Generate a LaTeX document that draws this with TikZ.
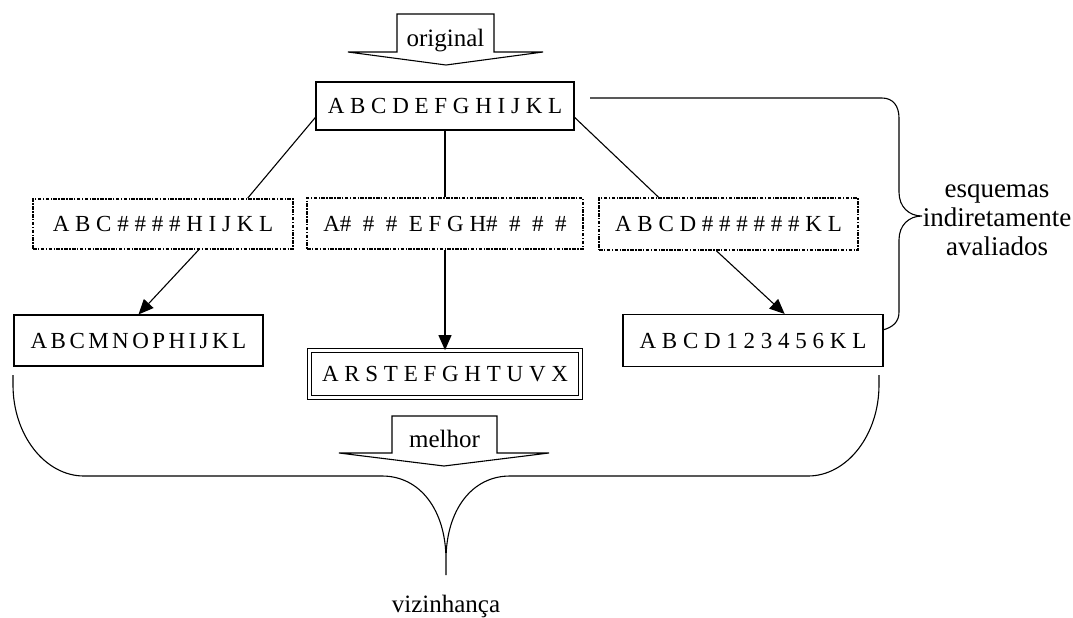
\documentclass[tikz,border=0pt]{standalone}
\usepackage{fontspec}
\setmainfont{Liberation Serif}
\usepackage{tikz}
\usetikzlibrary{arrows.meta, calc}

\begin{document}
\begin{tikzpicture}[x=0.5pt, y=-0.5pt, line width=0.55pt,
    esquema/.style={draw, inner sep=0pt, font=\fontsize{11.5}{13}\selectfont},
    parcial/.style={esquema, line width=0.9pt, dash pattern=on 1.8pt off 0.7pt on 0.7pt off 0.7pt},
    escolhido/.style={esquema, double, double distance=1.5pt},
    rotulo/.style={font=\fontsize{12.5}{14}\selectfont},
    seta/.style={-{Triangle[length=7.5pt, width=6.5pt]}}]

    \useasboundingbox (0,0) rectangle (1073,617);

    % seta de entrada
    \draw (397,14) -- (494,14) -- (494,52) -- (543,52) -- (446,65) -- (348,52) -- (397,52) -- cycle;
    \node[rotulo, anchor=base] (orig) at (445.5,46) {original};

    % esquema original
    \node[esquema, minimum width=129pt, minimum height=24pt] (top) at (445,106) {A B C D E F G H I J K L};

    % esquemas parciais
    \node[parcial, minimum width=130pt, minimum height=25pt] (mutL) at (163,224) {A B C \# \# \# \# H I J K L};
    \node[parcial, minimum width=138pt, minimum height=25.5pt] (mutM) at (445,223.5) {A\# \ \# \ \# \ E F G H\# \ \# \ \# \ \#};
    \node[parcial, minimum width=129.5pt, minimum height=26pt] (mutR) at (728.5,224) {A B C D \# \# \# \# \# \# K L};

    % vizinhos
    \node[esquema, minimum width=124.5pt, minimum height=25.5pt] (nbL) at (138.5,340.5) {\spaceskip=0.15em A B C M N O P H I J K L};
    \node[escolhido, minimum width=135.3pt, minimum height=23.3pt] (best) at (445,374) {A R S T E F G H T U V X};
    \node[esquema, minimum width=130pt, minimum height=26pt] (nbR) at (753,340.5) {A B C D 1 2 3 4 5 6 K L};

    % ligacoes
    \draw (top.185) -- (mutL.17);
    \draw (top.south) -- (mutM.north);
    \draw (top.355) -- (mutR.159);
    \draw[seta] (mutL.-36) -- (nbL.north);
    \draw[seta] (mutM.south) -- (best.north);
    \draw[seta] (mutR.246) -- (nbR.40);

    % chave da direita
    \draw (590,98) -- (882,98) .. controls (893,98) and (899,106) .. (899,118) -- (899,192)
        .. controls (899,207) and (909,216) .. (922,216)
        .. controls (909,216) and (899,225) .. (899,240) -- (899,312)
        .. controls (899,322) and (893,327) .. (883,330);
    \node[font=\fontsize{13.5}{14.5}\selectfont, align=center] (aval) at (997,220) {esquemas\\indiretamente\\avaliados};

    % seta de saida
    \draw (392,416) -- (497,416) -- (497,453) -- (549,453) -- (444,466) -- (339,453) -- (392,453) -- cycle;
    \node[rotulo, anchor=base] (melhor) at (444.5,447) {melhor};

    % chave de baixo
    \draw (13,375) -- (13,385) .. controls (13,435) and (45,476) .. (84,476) -- (382,476)
        .. controls (420,476) and (446,510) .. (446,560) -- (446,575)
        (446,560) .. controls (446,510) and (472,476) .. (510,476) -- (808,476)
        .. controls (847,476) and (879,435) .. (879,385) -- (879,375);
    \node[rotulo, anchor=base] (viz) at (446,612) {vizinhança};
\end{tikzpicture}
\end{document}
